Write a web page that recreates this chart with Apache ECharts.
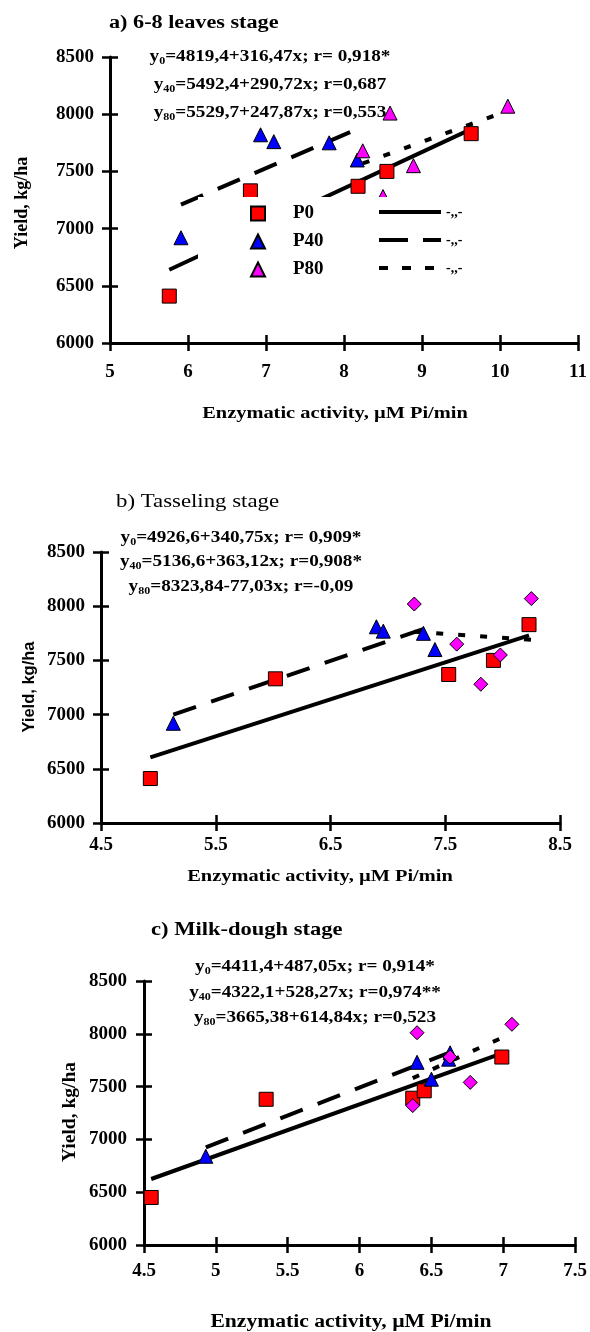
<!DOCTYPE html>
<html><head><meta charset="utf-8">
<script src="https://cdn.jsdelivr.net/npm/echarts@6/dist/echarts.min.js"></script>
<style>html,body{margin:0;padding:0;background:#fff}#c{width:590px;height:1332px}</style>
</head><body><div id="c"></div>
<script>
// ---------- DATA ----------
// Panel a: 6-8 leaves stage  [enzymatic activity, yield]
const a_P0  = [[5.76,6410],[6.80,7330],[8.18,7370],[8.55,7500],[9.63,7830]];
const a_P40 = [[5.91,6920],[6.93,7820],[7.10,7760],[7.81,7750],[8.17,7600]];
const a_P80 = [[8.59,8010],[8.24,7680],[8.89,7550],[10.10,8070],[8.50,7280]];
const a_fit0  = [[5.76,6640],[9.63,7870]];
const a_fit40 = [[5.91,7210],[8.17,7870]];
const a_fit80 = [[8.24,7570],[10.10,8030]];
const a_eq = [['0','=4819,4+316,47x; r= 0,918*'],['40','=5492,4+290,72x; r=0,687'],['80','=5529,7+247,87x; r=0,553']];
// Panel b: Tasseling stage
const b_P0  = [[4.93,6410],[6.02,7330],[7.53,7370],[7.92,7500],[8.23,7830]];
const b_P40 = [[5.13,6920],[6.90,7810],[6.96,7770],[7.31,7750],[7.41,7600]];
const b_P80 = [[7.23,8020],[8.25,8070],[7.60,7650],[7.81,7280],[7.98,7550]];
const b_fit0  = [[4.93,6605],[8.23,7730]];
const b_fit40 = [[5.13,7000],[7.41,7825]];
const b_fit80 = [[7.23,7765],[8.25,7690]];
const b_eq = [['0','=4926,6+340,75x; r= 0,909*'],['40','=5136,6+363,12x; r=0,908*'],['80','=8323,84-77,03x; r=-0,09']];
const b_xTicks = [4.5,5.5,6.5,7.5,8.5];
// Panel c: Milk-dough stage
const c_P0  = [[4.55,6450],[5.35,7380],[6.37,7390],[6.45,7460],[6.99,7780]];
const c_P40 = [[4.93,6840],[6.40,7730],[6.50,7570],[6.63,7820],[6.62,7760]];
const c_P80 = [[6.40,8010],[7.06,8090],[6.63,7780],[6.77,7540],[6.37,7320]];
const c_fit0  = [[4.55,6625],[6.99,7815]];
const c_fit40 = [[4.93,6925],[6.63,7825]];
const c_fit80 = [[6.37,7580],[7.06,8005]];
const c_eq = [['0','=4411,4+487,05x; r= 0,914*'],['40','=4322,1+528,27x; r=0,974**'],['80','=3665,38+614,84x; r=0,523']];

const titles = ['a) 6-8 leaves stage','b) Tasseling stage','c) Milk-dough stage'];
const xName = 'Enzymatic activity, µM Pi/min';
const yName = 'Yield, kg/ha';
const legendNames = ['P0','P40','P80'];
const fitMark = '-,,-';

// ---------- STYLE / LAYOUT ----------
const SERIF = 'Liberation Serif';
const SANS = 'Liberation Sans';
const SX = 1.2; // horizontal stretch of the reference's text
const panels = [
  {grid:{left:110,top:57,width:471,height:286}, x:{min:5,max:11,interval:1}, xMargin:20, yMargin:16,
   P0:a_P0,P40:a_P40,P80:a_P80,f0:a_fit0,f40:a_fit40,f80:a_fit80,p80sym:'triangle',
   eq:a_eq, eqX:270, eqY:[57,85,113],
   title:{x:109,y:23,w:'bold',size:18.5}, xt:{x:335,y:414,size:17}, yt:{x:22,y:203,font:SERIF,size:18}},
  {grid:{left:101,top:552,width:459,height:271}, x:{min:4.5,max:8.5,custom:b_xTicks}, xMargin:13, yMargin:16,
   P0:b_P0,P40:b_P40,P80:b_P80,f0:b_fit0,f40:b_fit40,f80:b_fit80,p80sym:'diamond',
   eq:b_eq, eqX:241, eqY:[538,562,587],
   title:{x:116,y:502,w:'normal',size:19}, xt:{x:320,y:877,size:17}, yt:{x:29,y:687,font:SANS,size:16.5}},
  {grid:{left:144,top:981,width:434,height:264}, x:{min:4.5,max:7.5,interval:0.5}, xMargin:17, yMargin:17,
   P0:c_P0,P40:c_P40,P80:c_P80,f0:c_fit0,f40:c_fit40,f80:c_fit80,p80sym:'diamond',
   eq:c_eq, eqX:315, eqY:[967,993,1018],
   title:{x:151,y:930,w:'bold',size:18.8}, xt:{x:351,y:1322,size:18}, yt:{x:70,y:1112,font:SERIF,size:19.5}}
];

const grids=[], xAxes=[], yAxes=[], series=[], graphics=[];
const lab = {color:'#000', fontFamily:SERIF, fontWeight:'bold', fontSize:19};
const tickStyle = {color:'#000',width:2.5};
panels.forEach((p,i)=>{
  grids.push(p.grid);
  const xBase = {gridIndex:i, type:'value', position:'bottom', min:p.x.min, max:p.x.max, splitLine:{show:false}};
  if (p.x.interval) xBase.interval = p.x.interval;
  const xMain = Object.assign({}, xBase, {
    axisLine:{show:true,onZero:false,lineStyle:{color:'#000',width:3}},
    axisTick:{show:true,length:8,lineStyle:tickStyle},
    axisLabel:Object.assign({margin:p.xMargin, showMinLabel:true, showMaxLabel:true, formatter:v=>String(v)}, lab)});
  const xOver = Object.assign({}, xBase, {
    axisLine:{show:false,onZero:false}, axisTick:{show:true,inside:true,length:8,lineStyle:tickStyle},
    axisLabel:{show:false}});
  if (p.x.custom){
    xMain.interval=0.5; xOver.interval=0.5;
    xMain.axisTick.customValues=p.x.custom; xMain.axisLabel.customValues=p.x.custom; xOver.axisTick.customValues=p.x.custom;
  }
  xAxes.push(xMain, xOver);
  const yBase = {gridIndex:i, type:'value', min:6000, max:8500, interval:500, position:'left', splitLine:{show:false}};
  yAxes.push(Object.assign({}, yBase, {
    axisLine:{show:true,onZero:false,lineStyle:{color:'#000',width:3}},
    axisTick:{show:true,length:8,lineStyle:tickStyle},
    axisLabel:Object.assign({margin:p.yMargin, formatter:v=>String(v)}, lab)}));
  yAxes.push(Object.assign({}, yBase, {
    axisLine:{show:false,onZero:false}, axisTick:{show:true,inside:true,length:8,lineStyle:tickStyle},
    axisLabel:{show:false}}));
  const xi = 2*i, yi = 2*i;
  const sfx = i===0 ? '' : (i===1?' b':' c');
  const fit = (name,data,type)=>({name, type:'line', xAxisIndex:xi, yAxisIndex:yi, data, symbol:'none',
      lineStyle:{color:'#000', width:4, type}, z:2, silent:true, animation:false});
  series.push(fit('P0 fit'+sfx, p.f0, 'solid'));
  series.push(fit('P40 fit'+sfx, p.f40, [24,16]));
  series.push(fit('P80 fit'+sfx, p.f80, [7,15]));
  const sc = (name,data,symbol,color,size)=>({name, type:'scatter', xAxisIndex:xi, yAxisIndex:yi, data, symbol, symbolSize:size,
      itemStyle:{color, borderColor:'#000', borderWidth:1, opacity:1}, z:3, animation:false});
  series.push(sc('P0'+sfx, p.P0, 'rect', '#ff0000', 14));
  series.push(sc('P40'+sfx, p.P40, 'triangle', '#0000ff', 14));
  series.push(sc('P80'+sfx, p.P80, p.p80sym, '#ff00ff', 14));

  graphics.push({type:'text', x:p.title.x, y:p.title.y, scaleX:SX, style:{text:titles[i], fill:'#000',
      font:`${p.title.w} ${p.title.size}px "${SERIF}"`, align:'left', verticalAlign:'middle'}});
  p.eq.forEach((e,k)=>{
    graphics.push({type:'text', x:p.eqX, y:p.eqY[k], scaleX:SX, style:{
      text:`{b|y}{s|${e[0]}}{b|${e[1]}}`, align:'center', verticalAlign:'middle',
      rich:{b:{fontFamily:SERIF,fontWeight:'bold',fontSize:16,fill:'#000',lineHeight:18},
            s:{fontFamily:SERIF,fontWeight:'bold',fontSize:10,fill:'#000',lineHeight:18,verticalAlign:'bottom'}}}});
  });
  graphics.push({type:'text', x:p.xt.x, y:p.xt.y, scaleX:SX, style:{text:xName, fill:'#000',
      font:`bold ${p.xt.size}px "${SERIF}"`, align:'center', verticalAlign:'middle'}});
  graphics.push({type:'text', x:p.yt.x, y:p.yt.y, rotation:Math.PI/2, style:{text:yName, fill:'#000',
      font:`bold ${p.yt.size}px "${p.yt.font}"`, align:'center', verticalAlign:'middle'}});
});

const legends = [
  {data:legendNames, orient:'vertical', left:198, top:197, padding:[7,14,9,52], itemWidth:14, itemHeight:14, itemGap:9,
   backgroundColor:'#fff', selectedMode:false, formatter:'{t|{name}}',
   textStyle:{rich:{t:{fontFamily:SERIF,fontWeight:'bold',fontSize:19,color:'#000',lineHeight:19,padding:[0,0,0,23]}}}, z:6},
  {data:[{name:'P0 fit',lineStyle:{type:'solid'}},{name:'P40 fit',lineStyle:{type:[29,15]}},{name:'P80 fit',lineStyle:{type:[9,14]}}],
   orient:'vertical', left:320, top:197, padding:[7,20,9,57], itemWidth:62, itemHeight:14, itemGap:12,
   backgroundColor:'#fff', selectedMode:false, formatter:()=>fitMark,
   itemStyle:{opacity:0, borderWidth:0}, lineStyle:{width:4, color:'#000'},
   textStyle:{fontFamily:SERIF,fontWeight:'bold',fontSize:14,color:'#000',lineHeight:16}, z:6}
];

const chart = echarts.init(document.getElementById('c'), null, {renderer:'canvas'});
chart.setOption({
  animation:false, backgroundColor:'#fff',
  grid:grids, xAxis:xAxes, yAxis:yAxes, series, legend:legends, graphic:graphics
});
</script></body></html>
